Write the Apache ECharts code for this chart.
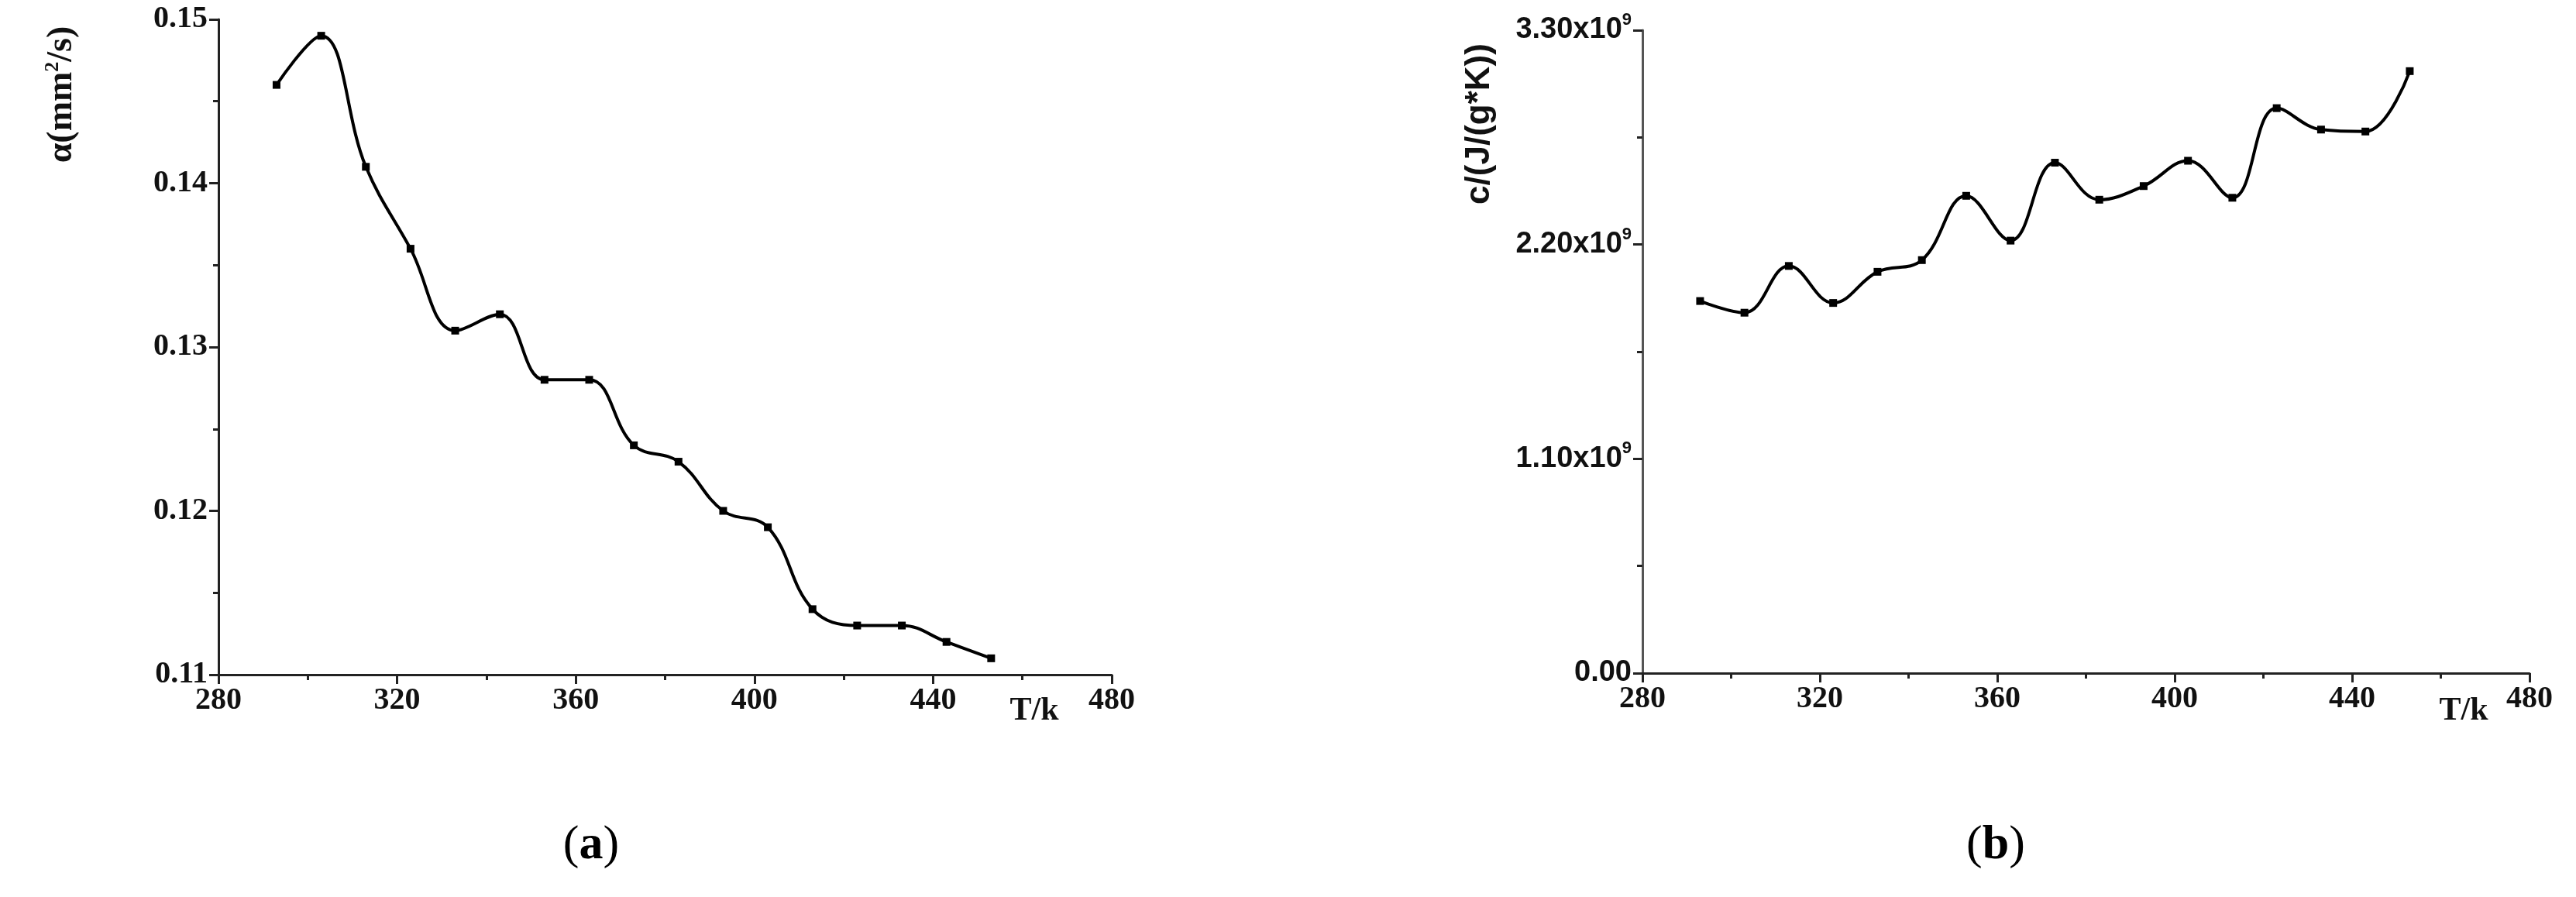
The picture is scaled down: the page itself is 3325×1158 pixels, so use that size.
<!DOCTYPE html>
<html>
<head>
<meta charset="utf-8">
<script src="https://cdn.jsdelivr.net/npm/echarts@6/dist/echarts.min.js"></script>
<style>html,body{margin:0;padding:0;background:#fff}#main{width:3325px;height:1158px}</style>
</head>
<body>
<div id="main"></div>
<script>
// temperature points (both panels)
var temps = [293, 303, 313, 323, 333, 343, 353, 363, 373, 383, 393, 403, 413, 423, 433, 443, 453];
// (a) thermal diffusivity, mm^2/s
var alphaVals = [0.146, 0.149, 0.141, 0.136, 0.131, 0.132, 0.128, 0.128, 0.124, 0.123, 0.120, 0.119, 0.114, 0.113, 0.113, 0.112, 0.111];
// (b) specific heat, units of 1e9
var cVals = [1.91, 1.85, 2.09, 1.90, 2.06, 2.12, 2.45, 2.22, 2.62, 2.43, 2.50, 2.63, 2.44, 2.90, 2.79, 2.78, 3.09];

function pairs(xs, ys, k) {
    var out = [];
    for (var i = 0; i < xs.length; i++) out.push([xs[i], ys[i] * k]);
    return out;
}

var myChart = echarts.init(document.getElementById('main'));
var axisLine = {lineStyle: {color: '#222', width: 3}};
var tick = {inside: false, length: 12, lineStyle: {color: '#222', width: 3}};
var minor = {show: true, splitNumber: 2, length: 7, lineStyle: {color: '#222', width: 3}};
var timesLbl = {fontFamily: 'Liberation Serif', fontWeight: 'bold', fontSize: 40, color: '#111'};

var option = {
    animation: false,
    grid: [
        {left: 282, top: 25, width: 1153, height: 846},
        {left: 2120, top: 39, width: 1145, height: 830}
    ],
    xAxis: [
        {gridIndex: 0, type: 'value', min: 280, max: 480, interval: 40, splitLine: {show: false},
         axisLine: axisLine, axisTick: tick, minorTick: minor,
         axisLabel: Object.assign({margin: 14}, timesLbl)},
        {gridIndex: 1, type: 'value', min: 280, max: 480, interval: 40, splitLine: {show: false},
         axisLine: axisLine, axisTick: tick, minorTick: minor,
         axisLabel: Object.assign({margin: 14}, timesLbl)}
    ],
    yAxis: [
        {gridIndex: 0, type: 'value', min: 0.11, max: 0.15, interval: 0.01, splitLine: {show: false},
         axisLine: axisLine, axisTick: tick, minorTick: minor,
         axisLabel: Object.assign({margin: 14, formatter: function(v){ return v.toFixed(2); }}, timesLbl)},
        {gridIndex: 1, type: 'value', min: 0, max: 3.3e9, interval: 1.1e9, splitLine: {show: false},
         axisLine: {lineStyle: {color: '#555', width: 3}}, axisTick: tick, minorTick: minor,
         axisLabel: {margin: 14, formatter: function(v){
             if (v === 0) return '{a|0.00}';
             return '{a|' + (v / 1e9).toFixed(2) + 'x10}{s|9}';
         }, rich: {
             a: {fontFamily: 'Liberation Sans', fontWeight: 'bold', fontSize: 38, color: '#111'},
             s: {fontFamily: 'Liberation Sans', fontWeight: 'bold', fontSize: 22, color: '#111', verticalAlign: 'top', padding: [0, 0, 26, 0]}
         }}}
    ],
    series: [
        {type: 'line', xAxisIndex: 0, yAxisIndex: 0, smooth: 0.4, data: pairs(temps, alphaVals, 1),
         symbol: 'rect', symbolSize: 10, itemStyle: {color: '#000'}, lineStyle: {color: '#000', width: 4}},
        {type: 'line', xAxisIndex: 1, yAxisIndex: 1, smooth: 0.4, data: pairs(temps, cVals, 1e9),
         symbol: 'rect', symbolSize: 10, itemStyle: {color: '#000'}, lineStyle: {color: '#000', width: 4}}
    ],
    graphic: [
        {type: 'text', x: 80, y: 122, rotation: Math.PI / 2, style: {
            text: '{a|α(mm}{s|2}{a|/s)}', align: 'center', verticalAlign: 'middle',
            rich: {a: {fontFamily: 'Liberation Serif', fontWeight: 'bold', fontSize: 46, fill: '#111'},
                   s: {fontFamily: 'Liberation Serif', fontWeight: 'bold', fontSize: 26, fill: '#111', verticalAlign: 'top', padding: [0, 0, 24, 0]}}}},
        {type: 'text', x: 1910, y: 160, rotation: Math.PI / 2, style: {
            text: 'c/(J/(g*K))', align: 'center', verticalAlign: 'middle',
            font: 'bold 44px "Liberation Sans"', fill: '#111'}},
        {type: 'text', x: 1335, y: 918, style: {text: 'T/k', align: 'center', verticalAlign: 'middle',
            font: 'bold 42px "Liberation Serif"', fill: '#111'}},
        {type: 'text', x: 3180, y: 918, style: {text: 'T/k', align: 'center', verticalAlign: 'middle',
            font: 'bold 42px "Liberation Serif"', fill: '#111'}},
        {type: 'text', x: 763, y: 1092, style: {text: '({b|a})', align: 'center', verticalAlign: 'middle',
            rich: {b: {fontFamily: 'Liberation Serif', fontWeight: 'bold', fontSize: 62, fill: '#000'}},
            font: '62px "Liberation Serif"', fill: '#000'}},
        {type: 'text', x: 2576, y: 1092, style: {text: '({b|b})', align: 'center', verticalAlign: 'middle',
            rich: {b: {fontFamily: 'Liberation Serif', fontWeight: 'bold', fontSize: 62, fill: '#000'}},
            font: '62px "Liberation Serif"', fill: '#000'}}
    ]
};

myChart.setOption(option);
</script>
</body>
</html>
